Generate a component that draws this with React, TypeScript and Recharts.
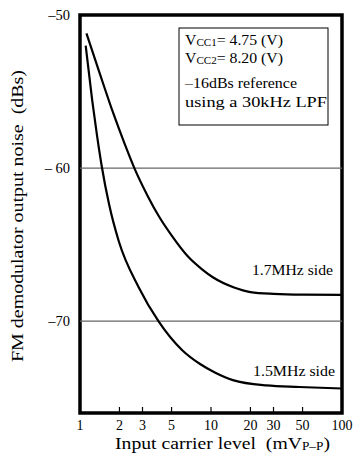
import { LineChart, Line, XAxis, YAxis, ReferenceLine, ReferenceArea } from "recharts";

// input carrier level (mVp-p) vs demodulator output noise (dBs)
const sideHighX = [1.12, 1.4, 1.8, 2.2, 2.6, 3.3, 4.0, 5.0, 6.7, 8.5, 10.4, 15, 20, 30, 50, 100];
const sideHighY = [-51.2, -53.7, -56.45, -58.45, -60.0, -61.85, -63.15, -64.4, -65.8, -66.6, -67.15, -67.8, -68.1, -68.22, -68.27, -68.28];

const sideLowX = [1.105, 1.24, 1.35, 1.46, 1.67, 1.98, 2.81, 3.97, 6.03, 8.25, 10.7, 14.7, 26.5, 47, 100];
const sideLowY = [-52.0, -55.6, -57.9, -59.8, -62.4, -64.8, -67.8, -70.0, -71.9, -72.8, -73.35, -73.85, -74.2, -74.3, -74.4];

const xTicks = [1, 2, 3, 5, 10, 20, 30, 50, 100];
const yTicks = [-50, -60, -70];
const yTickLabels: Record<number, string> = { [-50]: "\u201350", [-60]: "\u2013 60", [-70]: "\u201370" };

const highData = sideHighX.map((x, i) => ({ x, y: sideHighY[i] }));
const lowData = sideLowX.map((x, i) => ({ x, y: sideLowY[i] }));

const FONT = "'Liberation Serif', 'Times New Roman', serif";
const W = 354;
const H = 464;
const AXIS_Y = 413;

const XTick = ({ x, payload }: any) => (
  <g>
    <line x1={x} x2={x} y1={AXIS_Y} y2={AXIS_Y - 6} stroke="#000" strokeWidth={1.2} />
    <text x={x} y={430} textAnchor="middle" fontSize={14} fontFamily={FONT} fill="#000">
      {payload.value}
    </text>
  </g>
);

const YTick = ({ x, y, payload }: any) => (
  <text x={x} y={y} dy={5} textAnchor="end" fontSize={14.5} fontFamily={FONT} fill="#000" style={{ whiteSpace: "pre" }}>
    {yTickLabels[payload.value]}
  </text>
);

export default function App() {
  return (
    <div style={{ position: "relative", width: W, height: H, background: "#fff" }}>
      <style>{"body{margin:0}"}</style>
      <LineChart width={W} height={H} margin={{ top: 15, right: 12, bottom: 0, left: 0 }}>
        <XAxis
          dataKey="x"
          type="number"
          scale="log"
          domain={[1, 100]}
          ticks={xTicks}
          allowDataOverflow
          height={51}
          axisLine={false}
          tickLine={false}
          tick={<XTick />}
        />
        <YAxis
          type="number"
          domain={[-76, -50]}
          ticks={yTicks}
          width={80}
          axisLine={false}
          tickLine={false}
          tickSize={0}
          tickMargin={10}
          tick={<YTick />}
        />
        <ReferenceLine y={-60} stroke="#666" strokeWidth={1.2} />
        <ReferenceLine y={-70} stroke="#666" strokeWidth={1.2} />
        <Line data={highData} dataKey="y" type="monotone" stroke="#000" strokeWidth={2.2} dot={false} isAnimationActive={false} />
        <Line data={lowData} dataKey="y" type="monotone" stroke="#000" strokeWidth={2.2} dot={false} isAnimationActive={false} />
        <ReferenceArea x1={1} x2={100} y1={-76} y2={-50} fill="none" stroke="#000" strokeWidth={3.5} ifOverflow="visible" />
      </LineChart>
      <svg width={W} height={H} style={{ position: "absolute", left: 0, top: 0, pointerEvents: "none" }} fontFamily={FONT} fill="#000">
        <text
          x={17}
          y={216}
          transform="rotate(-90 17 216)"
          textAnchor="middle"
          dominantBaseline="central"
          fontSize={17}
          textLength={292}
          lengthAdjust="spacingAndGlyphs"
          style={{ whiteSpace: "pre" }}
        >
          FM demodulator output noise  (dBs)
        </text>
        <text x={115} y={449} fontSize={17} textLength={215} lengthAdjust="spacingAndGlyphs" style={{ whiteSpace: "pre" }}>
          Input carrier level  (mV
          <tspan fontSize={11.5} dy={1}>P–P</tspan>
          <tspan dy={-1}>)</tspan>
        </text>
        <rect x={179} y={28} width={149} height={97} fill="#fff" stroke="#000" strokeWidth={1} />
        <text x={185} y={45} fontSize={15} textLength={98} lengthAdjust="spacingAndGlyphs">
          V<tspan fontSize={10.5} dy={1}>CC1</tspan>
          <tspan dy={-1}>= 4.75 (V)</tspan>
        </text>
        <text x={185} y={63} fontSize={15} textLength={98} lengthAdjust="spacingAndGlyphs">
          V<tspan fontSize={10.5} dy={1}>CC2</tspan>
          <tspan dy={-1}>= 8.20 (V)</tspan>
        </text>
        <text x={185} y={88} fontSize={15} textLength={112} lengthAdjust="spacingAndGlyphs">–16dBs reference</text>
        <text x={185} y={107} fontSize={15} textLength={142} lengthAdjust="spacingAndGlyphs">using a 30kHz LPF</text>
        <text x={252} y={275} fontSize={15} textLength={81} lengthAdjust="spacingAndGlyphs">1.7MHz side</text>
        <text x={253} y={376} fontSize={15} textLength={82} lengthAdjust="spacingAndGlyphs">1.5MHz side</text>
      </svg>
    </div>
  );
}
